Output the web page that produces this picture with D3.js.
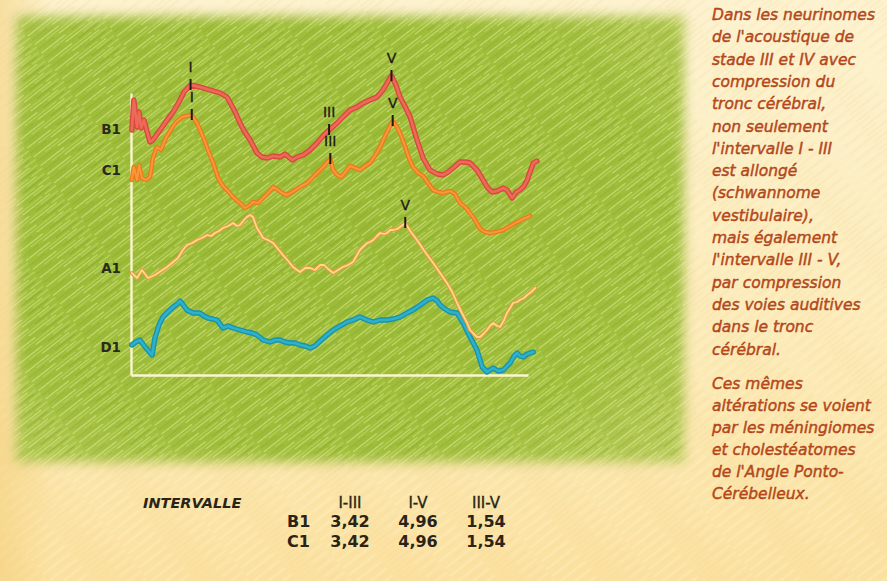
<!DOCTYPE html>
<html>
<head>
<meta charset="utf-8">
<script src="https://cdn.jsdelivr.net/npm/d3@7"></script>
<style>
  html, body { margin: 0; padding: 0; background: #fcecc0; }
  svg { display: block; }
</style>
</head>
<body>
<svg id="chart" width="887" height="581"></svg>
<script>
// ---------- Data: auditory brainstem responses, time in ms, amplitude in display units ----------
const channelNames = ["B1", "C1", "A1", "D1"];
const channelLabelLevels = [24.6, 20.5, 10.7, 2.8];

const traceB1 = [
  [0.02,24.5],[0.07,27.5],[0.15,24.8],[0.20,26.3],[0.25,24.7],[0.32,25.5],[0.40,24.3],[0.47,23.3],
  [0.54,23.5],[0.72,24.5],[0.89,25.5],[1.04,26.3],[1.21,27.5],[1.31,28.3],[1.47,29.0],[1.70,28.8],
  [1.95,28.5],[2.20,28.2],[2.37,27.8],[2.44,27.3],[2.57,26.3],[2.69,25.2],[2.81,24.3],[2.94,23.5],
  [3.11,22.2],[3.23,21.8],[3.36,21.7],[3.51,21.9],[3.68,21.8],[3.80,22.1],[3.98,21.5],[4.10,21.8],
  [4.25,22.0],[4.42,22.5],[4.59,23.2],[4.74,23.9],[4.89,24.5],[5.09,25.2],[5.23,25.8],[5.41,26.5],
  [5.58,26.8],[5.73,27.2],[5.90,27.5],[6.07,27.8],[6.22,28.5],[6.32,29.2],[6.43,29.9],[6.54,29.0],
  [6.64,27.8],[6.77,26.8],[6.89,25.8],[7.06,23.5],[7.21,21.7],[7.38,20.5],[7.56,20.1],[7.70,20.0],
  [7.83,20.3],[7.95,20.7],[8.12,21.3],[8.25,21.3],[8.37,21.2],[8.54,20.5],[8.69,19.5],[8.79,18.8],
  [8.91,18.3],[9.04,18.4],[9.19,18.7],[9.28,18.5],[9.41,17.7],[9.51,18.3],[9.60,18.5],[9.70,18.9],
  [9.78,19.5],[9.85,20.3],[9.93,21.2],[10.02,21.4]
];

const traceC1 = [
  [0.02,19.5],[0.07,20.8],[0.15,19.5],[0.20,21.0],[0.27,19.7],[0.37,19.5],[0.47,19.8],[0.54,21.7],
  [0.64,22.8],[0.74,22.5],[0.86,23.7],[1.01,24.7],[1.11,25.3],[1.26,25.8],[1.38,25.9],[1.50,26.0],
  [1.63,25.2],[1.78,23.8],[1.90,22.5],[2.02,21.3],[2.15,19.7],[2.27,18.9],[2.37,18.5],[2.52,17.8],
  [2.69,17.2],[2.81,16.7],[2.94,17.0],[3.01,17.3],[3.14,17.2],[3.23,17.6],[3.36,18.1],[3.51,18.8],
  [3.63,18.5],[3.73,18.2],[3.85,18.0],[3.98,18.3],[4.17,18.8],[4.35,19.2],[4.49,19.8],[4.67,20.5],
  [4.81,21.1],[4.92,21.6],[4.99,20.5],[5.09,20.0],[5.19,19.8],[5.31,20.4],[5.41,20.9],[5.53,20.7],
  [5.65,20.5],[5.78,20.9],[5.90,21.2],[6.02,21.9],[6.15,22.8],[6.27,23.9],[6.37,24.7],[6.46,25.4],
  [6.57,24.8],[6.67,23.9],[6.77,22.8],[6.86,21.7],[6.96,20.8],[7.09,20.2],[7.21,19.9],[7.33,19.2],
  [7.46,18.5],[7.58,18.3],[7.70,18.2],[7.88,18.4],[8.00,18.1],[8.12,17.2],[8.25,16.8],[8.37,16.2],
  [8.49,15.5],[8.62,14.6],[8.74,14.3],[8.86,14.2],[9.01,14.3],[9.19,14.5],[9.36,14.9],[9.53,15.3],
  [9.68,15.6],[9.85,15.9]
];

const traceA1 = [
  [0.02,10.2],[0.15,9.7],[0.27,10.5],[0.42,9.7],[0.59,10.0],[0.74,10.4],[0.89,10.8],[1.01,11.2],
  [1.16,11.7],[1.28,12.5],[1.38,13.0],[1.51,13.2],[1.63,13.5],[1.75,13.7],[1.88,14.0],[1.98,13.9],
  [2.07,14.2],[2.17,14.4],[2.27,14.7],[2.40,14.9],[2.52,15.2],[2.62,14.9],[2.69,15.0],[2.79,15.5],
  [2.86,15.8],[2.94,16.0],[3.01,15.8],[3.11,14.7],[3.19,14.2],[3.26,13.7],[3.38,13.5],[3.51,13.2],
  [3.63,12.6],[3.75,12.0],[3.88,11.4],[4.00,10.8],[4.10,10.5],[4.17,10.3],[4.30,10.7],[4.42,10.7],
  [4.54,10.5],[4.67,11.0],[4.77,11.0],[4.84,10.7],[4.99,10.2],[5.11,10.5],[5.23,10.8],[5.36,11.0],
  [5.48,11.3],[5.58,12.0],[5.65,12.5],[5.75,12.9],[5.83,13.2],[5.90,13.3],[5.98,13.5],[6.07,13.9],
  [6.15,14.2],[6.25,14.1],[6.32,14.2],[6.40,14.5],[6.47,14.5],[6.57,14.6],[6.64,14.8],[6.77,15.2],
  [6.91,14.3],[7.06,13.5],[7.26,12.3],[7.46,11.2],[7.63,10.2],[7.80,9.2],[7.93,8.3],[8.05,7.2],
  [8.17,6.2],[8.30,5.2],[8.37,4.5],[8.44,4.2],[8.54,3.8],[8.62,3.8],[8.72,4.2],[8.79,4.5],
  [8.86,4.9],[8.94,5.2],[9.04,4.9],[9.11,4.8],[9.21,5.5],[9.28,6.2],[9.36,6.7],[9.43,7.2],
  [9.53,7.3],[9.60,7.5],[9.70,7.7],[9.78,8.0],[9.88,8.3],[9.98,8.7]
];

const traceD1 = [
  [0.02,3.0],[0.12,3.3],[0.22,3.5],[0.35,2.8],[0.52,2.0],[0.59,3.7],[0.69,5.0],[0.79,5.8],
  [0.91,6.3],[1.04,6.8],[1.14,7.1],[1.21,7.4],[1.31,6.9],[1.38,6.5],[1.53,6.2],[1.70,6.2],
  [1.80,5.9],[1.90,5.7],[2.02,5.6],[2.12,5.5],[2.27,4.7],[2.40,4.9],[2.52,4.7],[2.69,4.5],
  [2.86,4.3],[2.99,4.2],[3.11,4.0],[3.26,3.5],[3.43,3.3],[3.56,3.5],[3.68,3.5],[3.80,3.3],
  [3.93,3.2],[4.05,3.2],[4.17,3.0],[4.30,2.9],[4.42,2.7],[4.54,2.9],[4.67,3.4],[4.81,3.9],
  [4.99,4.5],[5.16,4.9],[5.33,5.3],[5.48,5.5],[5.65,5.8],[5.83,5.5],[5.98,5.3],[6.15,5.5],
  [6.32,5.5],[6.47,5.6],[6.64,5.8],[6.81,6.2],[6.96,6.5],[7.14,7.0],[7.31,7.5],[7.46,7.7],
  [7.56,7.4],[7.63,7.0],[7.75,6.6],[7.88,6.3],[8.05,6.2],[8.20,5.2],[8.37,3.8],[8.54,2.5],
  [8.67,0.8],[8.79,0.3],[8.94,0.7],[9.06,0.4],[9.19,0.5],[9.28,0.9],[9.36,1.2],[9.46,1.9],
  [9.53,2.2],[9.60,1.9],[9.68,1.8],[9.78,2.1],[9.85,2.2],[9.93,2.3]
];

// Interpeak intervals (ms)
const intervalHeaders = ["I-III", "I-V", "III-V"];
const intervalRows = ["B1", "C1"];
const intervalB1 = [3.42, 4.96, 1.54];
const intervalC1 = [3.42, 4.96, 1.54];

// Latency of wave I on B1 / C1 and of wave V on A1 (ms)
const waveIB1 = 1.47;
const waveIC1 = 1.50;
const waveVA1 = 6.77;

const noteParagraph1 = [
  "Dans les neurinomes", "de l'acoustique de", "stade III et IV avec", "compression du",
  "tronc cérébral,", "non seulement", "l'intervalle I - III", "est allongé",
  "(schwannome", "vestibulaire),", "mais également", "l'intervalle III - V,",
  "par compression", "des voies auditives", "dans le tronc", "cérébral."
];
const noteParagraph2 = [
  "Ces mêmes", "altérations se voient", "par les méningiomes", "et cholestéatomes",
  "de l'Angle Ponto-", "Cérébelleux."
];

// ---------- Drawing ----------
const W = 887, H = 581;
const svg = d3.select("#chart");
const defs = svg.append("defs");

// paper background
const paper = defs.append("linearGradient").attr("id", "paper")
  .attr("x1", 0).attr("y1", 0).attr("x2", 0).attr("y2", 1);
paper.append("stop").attr("offset", "0%").attr("stop-color", "#fdf2cf");
paper.append("stop").attr("offset", "55%").attr("stop-color", "#fcebb9");
paper.append("stop").attr("offset", "100%").attr("stop-color", "#fbe1a0");

const sideShade = defs.append("linearGradient").attr("id", "sideShade")
  .attr("x1", 0).attr("y1", 0).attr("x2", 1).attr("y2", 0);
sideShade.append("stop").attr("offset", "0%").attr("stop-color", "#f3cf7a").attr("stop-opacity", 0.55);
sideShade.append("stop").attr("offset", "6%").attr("stop-color", "#f3cf7a").attr("stop-opacity", 0);
sideShade.append("stop").attr("offset", "100%").attr("stop-color", "#f3cf7a").attr("stop-opacity", 0);

// green board
const board = defs.append("radialGradient").attr("id", "board")
  .attr("cx", "45%").attr("cy", "45%").attr("r", "70%");
board.append("stop").attr("offset", "0%").attr("stop-color", "#99ba34");
board.append("stop").attr("offset", "70%").attr("stop-color", "#a0bf3c");
board.append("stop").attr("offset", "100%").attr("stop-color", "#b6ca58");

defs.append("filter").attr("id", "feather")
  .attr("x", "-5%").attr("y", "-5%").attr("width", "110%").attr("height", "110%")
  .append("feGaussianBlur").attr("stdDeviation", 6);

defs.append("filter").attr("id", "soft")
  .append("feGaussianBlur").attr("stdDeviation", 0.55);

// streak texture
const streak = defs.append("pattern").attr("id", "streaks")
  .attr("patternUnits", "userSpaceOnUse").attr("width", 70).attr("height", 11)
  .attr("patternTransform", "rotate(-38)");
const streakSegs = [
  [0, 1.5, 30, "#e4ef9c", 0.6], [38, 1.5, 64, "#6f8f1c", 0.35],
  [12, 4.5, 52, "#d4e282", 0.5], [56, 4.5, 70, "#e4ef9c", 0.45],
  [0, 7.5, 20, "#7a9a22", 0.35], [26, 7.5, 60, "#e8f2a4", 0.55],
  [5, 10, 40, "#86a62a", 0.3], [46, 10, 68, "#dde98e", 0.5]
];
streakSegs.forEach(s => {
  streak.append("line").attr("x1", s[0]).attr("y1", s[1]).attr("x2", s[2]).attr("y2", s[1])
    .attr("stroke", s[3]).attr("stroke-opacity", s[4]).attr("stroke-width", 1.1);
});

const paperStreak = defs.append("pattern").attr("id", "paperStreaks")
  .attr("patternUnits", "userSpaceOnUse").attr("width", 80).attr("height", 9)
  .attr("patternTransform", "rotate(-38)");
[[0, 2, 35, "#fff6d8", 0.5], [40, 2, 75, "#efd088", 0.3], [15, 6, 55, "#f2d690", 0.3], [60, 6, 80, "#fff6d8", 0.4]]
  .forEach(s => {
    paperStreak.append("line").attr("x1", s[0]).attr("y1", s[1]).attr("x2", s[2]).attr("y2", s[1])
      .attr("stroke", s[3]).attr("stroke-opacity", s[4]).attr("stroke-width", 1);
  });

const boardMask = defs.append("mask").attr("id", "boardMask");
boardMask.append("rect").attr("x", 16).attr("y", 16).attr("width", 668).attr("height", 446)
  .attr("fill", "#fff").attr("filter", "url(#feather)");

svg.append("rect").attr("width", W).attr("height", H).attr("fill", "url(#paper)");
svg.append("rect").attr("width", W).attr("height", H).attr("fill", "url(#paperStreaks)");
svg.append("rect").attr("width", W).attr("height", H).attr("fill", "url(#sideShade)");

const boardG = svg.append("g").attr("mask", "url(#boardMask)");
boardG.append("rect").attr("x", 0).attr("y", 0).attr("width", 700).attr("height", 480).attr("fill", "url(#board)");
boardG.append("rect").attr("x", 0).attr("y", 0).attr("width", 700).attr("height", 480).attr("fill", "url(#streaks)");

// scales
const x = d3.scaleLinear().domain([0, 9.8]).range([131, 528]);
const y = d3.scaleLinear().domain([0, 28.2]).range([375, 93]);

// axes (no ticks)
const axisColor = "#fbf6cf";
const gx = svg.append("g").attr("transform", `translate(0,${y(0)})`)
  .call(d3.axisBottom(x).tickValues([]).tickSizeOuter(0));
const gy = svg.append("g").attr("transform", `translate(${x(0)},0)`)
  .call(d3.axisLeft(y).tickValues([]).tickSizeOuter(0));
[gx, gy].forEach(g => g.select(".domain").attr("stroke", axisColor).attr("stroke-width", 2.4));

// channel labels
svg.append("g").selectAll("text").data(channelNames).join("text")
  .attr("x", 121).attr("y", (d, i) => y(channelLabelLevels[i]) + 5)
  .attr("text-anchor", "end")
  .attr("font-family", "DejaVu Sans, sans-serif").attr("font-weight", "bold").attr("font-size", 13.5)
  .attr("fill", "#2b2a1c").text(d => d);

// traces
const line = d3.line().x(d => x(d[0])).y(d => y(d[1]));
const traces = [
  { data: traceD1, outer: "#1a93ab", inner: "#2db1c9", wo: 5.4, wi: 2.6 },
  { data: traceA1, outer: "#e39c42", inner: "#fdd98c", wo: 4.0, wi: 1.8 },
  { data: traceC1, outer: "#ea7a1e", inner: "#f8983a", wo: 4.6, wi: 2.0 },
  { data: traceB1, outer: "#d74a3e", inner: "#ee6a58", wo: 5.4, wi: 2.6 }
];
const traceG = svg.append("g").attr("filter", "url(#soft)")
  .attr("fill", "none").attr("stroke-linejoin", "round").attr("stroke-linecap", "round");
traces.forEach(t => {
  traceG.append("path").datum(t.data).attr("d", line).attr("stroke", t.outer).attr("stroke-width", t.wo);
  traceG.append("path").datum(t.data).attr("d", line).attr("stroke", t.inner).attr("stroke-width", t.wi);
});

// wave markers, placed from wave I latency plus the interpeak intervals
function valueAt(series, t) {
  let best = series[0];
  series.forEach(p => { if (Math.abs(p[0] - t) < Math.abs(best[0] - t)) best = p; });
  return best[1];
}
const markers = [
  { series: traceB1, wave: "I", t: waveIB1 },
  { series: traceB1, wave: "III", t: waveIB1 + intervalB1[0] },
  { series: traceB1, wave: "V", t: waveIB1 + intervalB1[1] },
  { series: traceC1, wave: "I", t: waveIC1 },
  { series: traceC1, wave: "III", t: waveIC1 + intervalC1[0] },
  { series: traceC1, wave: "V", t: waveIC1 + intervalC1[1] },
  { series: traceA1, wave: "V", t: waveVA1 }
];
const markG = svg.append("g");
markers.forEach(m => {
  const px = x(m.t), py = y(valueAt(m.series, m.t));
  markG.append("line").attr("x1", px).attr("x2", px).attr("y1", py - 6).attr("y2", py + 5)
    .attr("stroke", "#1d1a14").attr("stroke-width", 2);
  markG.append("text").attr("x", px).attr("y", py - 13).attr("text-anchor", "middle")
    .attr("font-family", "DejaVu Sans, sans-serif").attr("font-size", 14)
    .attr("fill", "#1d1a14").attr("stroke", "#1d1a14").attr("stroke-width", 0.3).text(m.wave);
});

// note text on the right
const noteG = svg.append("g")
  .attr("font-family", "DejaVu Sans, sans-serif").attr("font-style", "italic")
  .attr("font-size", 15.5).attr("fill", "#c04c1c").attr("stroke", "#a23a14").attr("stroke-width", 0.4);
noteParagraph1.forEach((s, i) => {
  noteG.append("text").attr("x", 712).attr("y", 20 + i * 22.3).text(s);
});
noteParagraph2.forEach((s, i) => {
  noteG.append("text").attr("x", 712).attr("y", 389 + i * 22).text(s);
});

// interval table
const col = d3.scalePoint().domain(intervalHeaders).range([350, 486]);
const tableG = svg.append("g").attr("font-family", "DejaVu Sans, sans-serif").attr("fill", "#2a2418");
tableG.append("text").attr("x", 143).attr("y", 508)
  .attr("font-weight", "bold").attr("font-style", "italic").attr("font-size", 14.5)
  .text("INTERVALLE");
tableG.selectAll("text.head").data(intervalHeaders).join("text").attr("class", "head")
  .attr("x", d => col(d)).attr("y", 508).attr("text-anchor", "middle")
  .attr("font-size", 15).attr("stroke", "#2a2418").attr("stroke-width", 0.35).text(d => d);
const fmt = v => v.toFixed(2).replace(".", ",");
[intervalB1, intervalC1].forEach((vals, r) => {
  const yy = 527 + r * 20;
  tableG.append("text").attr("x", 287).attr("y", yy).attr("font-size", 16).attr("font-weight", "bold")
    .text(intervalRows[r]);
  vals.forEach((v, c) => {
    tableG.append("text").attr("x", col(intervalHeaders[c])).attr("y", yy).attr("text-anchor", "middle")
      .attr("font-size", 16).attr("font-weight", "bold").text(fmt(v));
  });
});
</script>
</body>
</html>
